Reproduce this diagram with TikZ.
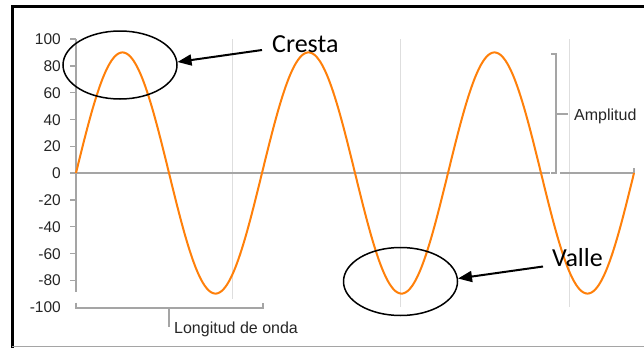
\documentclass[tikz,border=0pt]{standalone}
\usepackage{fontspec}
\setmainfont{Liberation Sans}
\newfontfamily\calib{Carlito}
\usetikzlibrary{shapes.geometric,arrows.meta,calc}
\definecolor{waveor}{RGB}{255,128,10}
\definecolor{axisgray}{RGB}{165,165,165}
\definecolor{gridgray}{RGB}{222,222,222}
\begin{document}
\begin{tikzpicture}[x=1pt,y=-1pt,
  axisline/.style={draw=axisgray,line width=1.4pt},
  gridline/.style={draw=gridgray,line width=1pt},
  ticklab/.style={anchor=base east,inner sep=0pt,font=\fontsize{15.5}{18}\selectfont,text=black!85},
  annlab/.style={anchor=base west,inner sep=0pt,font=\fontsize{16}{19}\selectfont,text=black!85},
  bigl/.style={anchor=base west,inner sep=0pt,font=\calib\fontsize{26}{30}\selectfont},
  ring/.style={draw=black,ellipse,line width=1.5pt,minimum width=114pt,minimum height=68pt,inner sep=0pt},
  callout/.style={draw=black,line width=2pt,-{Triangle[length=14pt,width=11pt]}}]
\useasboundingbox (0,0) rectangle (644,348);
\fill[white] (0,0) rectangle (644,348);
% frame
\draw[line width=3pt] (12.5,348) -- (12.5,6.5) -- (644,6.5);
\draw[axisgray,line width=1pt] (12,346.5) -- (644,346.5);
% grid lines
\draw[gridline] (232,39) -- (232,299);
\draw[gridline] (400.5,39) -- (400.5,307);
\draw[gridline] (569,39) -- (569,307);
% axes
\draw[axisline] (76,39) -- (76,292);
\draw[axisline] (76,173) -- (550,173);
\draw[axisline] (560,173) -- (634,173) -- (634,168);
\foreach \v in {100,80,...,-80}{
  \draw[axisline] (70,{173-1.34*\v}) -- (76,{173-1.34*\v});
}
\foreach \v/\n in {100/t100,80/t80,60/t60,40/t40,20/t20,0/t0,-20/tm20,-40/tm40,-60/tm60,-80/tm80,-100/tm100}{
  \node[ticklab] (\n) at (61,{173-1.34*\v+5.6}) {\v};
}
% wave
\draw[waveor,line width=2pt,line join=round] plot[domain=76:634,samples=300,smooth] (\x,{173-120.6*sin(1.935484*(\x-76))});
% wavelength bracket
\draw[axisline] (76,302.5) -- (76,308) -- (263,308) -- (263,302.5);
\draw[axisline] (169,308) -- (169,327);
\node[annlab] (lon) at (174,333.5) {Longitud de onda};
% amplitude bracket
\draw[axisline] (551,54) -- (556,54) -- (556,173) -- (551,173);
\draw[axisline] (556,114) -- (568,114);
\node[annlab] (amp) at (574,120) {Amplitud};
% callouts
\node[ring] (crest) at (120,65) {};
\node[ring] (trough) at (400.5,281.5) {};
\node[bigl] (cresta) at (272,52) {Cresta};
\node[bigl] (valle) at (552,266.5) {Valle};
\draw[callout] ($(cresta.base west)+(-10,-2)$) -- (crest.3);
\draw[callout] ($(valle.base west)+(-9,0)$) -- (trough.3);
\end{tikzpicture}
\end{document}
